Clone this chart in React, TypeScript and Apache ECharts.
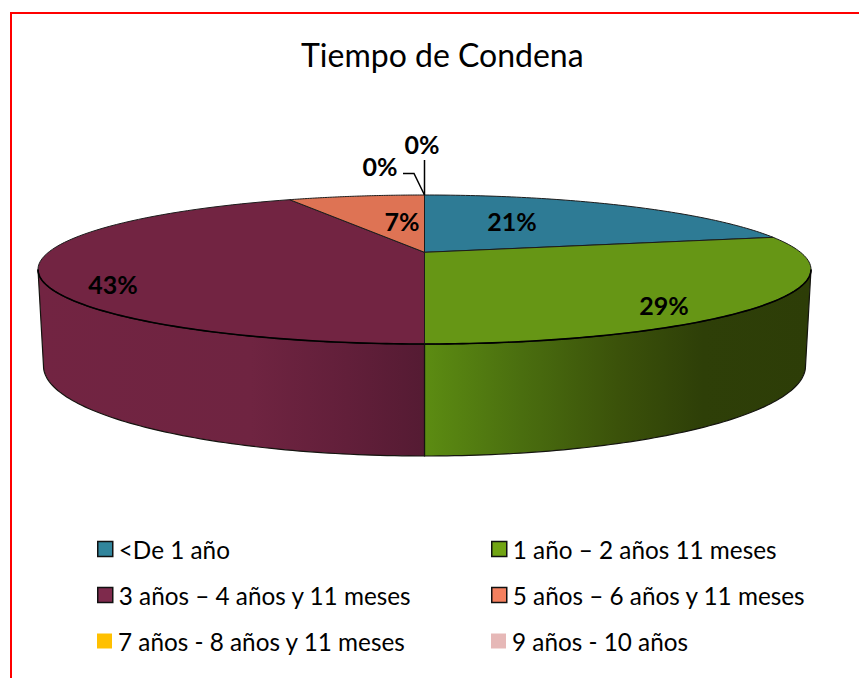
import React, { useEffect, useRef } from "react";
import * as echarts from "echarts";

const titleText = "Tiempo de Condena";
const categories = [
  "<De 1 año",
  "1 año – 2 años 11 meses",
  "3 años – 4 años y 11 meses",
  "5 años – 6 años y 11 meses",
  "7 años - 8 años y 11 meses",
  "9 años - 10 años",
];
const counts = [3, 4, 6, 1, 0, 0];
const topColors = ["#2E7B95", "#669615", "#722442", "#DE7354", "#FFC000", "#E6B8B7"];
const swatchColors = ["#31859C", "#71A413", "#7E2A4C", "#F4805F", "#FFC000", "#E6B8B7"];

const total = counts.reduce((a, b) => a + b, 0);

// 3D projection of the pie (Excel-like perspective)
const top = { cx: 424.5, cy: 269.5, rx: 386.5, ry: 74.5 };
const bottom = { cx: 424.5, cy: 366, rx: 381, ry: 90 };
const apex = { x: 424.5, y: 252.3 };
const squeeze = 72.6;

function rimPoint(deg: number) {
  const a = (deg * Math.PI) / 180;
  const dx = top.rx * Math.sin(a);
  const dy = -squeeze * Math.cos(a);
  const ox = (apex.x - top.cx) / top.rx;
  const oy = (apex.y - top.cy) / top.ry;
  const ux = dx / top.rx;
  const uy = dy / top.ry;
  const A = ux * ux + uy * uy;
  const B = 2 * (ox * ux + oy * uy);
  const C = ox * ox + oy * oy - 1;
  const t = (-B + Math.sqrt(B * B - 4 * A * C)) / (2 * A);
  return [apex.x + t * dx, apex.y + t * dy];
}
function paramOf(p: number[]) {
  let d = (Math.atan2((p[0] - top.cx) / top.rx, -(p[1] - top.cy) / top.ry) * 180) / Math.PI;
  if (d < -0.001) d += 360;
  return d;
}
function ellipsePt(e: typeof top, deg: number) {
  const a = (deg * Math.PI) / 180;
  return [e.cx + e.rx * Math.sin(a), e.cy - e.ry * Math.cos(a)];
}

const wallGradients: Record<number, any[]> = {
  1: [
    [0, "#5C8C12"],
    [0.25, "#4A6E0F"],
    [0.5, "#3B520A"],
    [0.72, "#2E3F08"],
    [1, "#2D3D07"],
  ],
  2: [
    [0, "#722442"],
    [0.55, "#6F2441"],
    [0.8, "#621F3A"],
    [1, "#551B33"],
  ],
};

const labelPositions = [
  [512, 221],
  [664, 305],
  [113, 284],
  [402, 221],
  [380, 166],
  [422, 144],
];
const leaders: Record<number, number[][]> = {
  4: [
    [403, 173.5],
    [414, 173.5],
    [424.5, 195],
  ],
  5: [
    [424.5, 160],
    [424.5, 195],
  ],
};
const legendPos = [
  [97, 537],
  [491, 537],
  [97, 583],
  [491, 583],
  [97, 629],
  [491, 629],
];

function makeSeries(i: number) {
  const before = counts.slice(0, i).reduce((a, b) => a + b, 0);
  return {
    type: "custom",
    name: categories[i],
    coordinateSystem: "none",
    silent: true,
    z: 2 + i,
    itemStyle: { color: swatchColors[i] },
    data: [[counts[i]]],
    renderItem: (_p: any, api: any) => {
      const v = api.value(0) as number;
      const a1 = (before / total) * 360;
      const a2 = ((before + v) / total) * 360;
      const children: any[] = [];
      if (v > 0) {
        const rim: number[][] = [];
        for (let s = 0; s <= 80; s++) rim.push(rimPoint(a1 + ((a2 - a1) * s) / 80));
        const f1 = Math.max(paramOf(rim[0]), 90);
        const f2 = Math.min(a2 >= 360 ? 360 : paramOf(rim[80]), 270);
        if (f2 > f1) {
          const upper: number[][] = [];
          const lower: number[][] = [];
          for (let s = 0; s <= 80; s++) {
            const f = f1 + ((f2 - f1) * s) / 80;
            upper.push(ellipsePt(top, f));
            lower.push(ellipsePt(bottom, f));
          }
          children.push({
            type: "polygon",
            shape: { points: upper.concat(lower.reverse()) },
            style: {
              fill: new echarts.graphic.LinearGradient(0, 0, 1, 0, (wallGradients[i] || []).map((g: any) => ({ offset: g[0], color: g[1] }))),
              stroke: "#14140f",
              lineWidth: 1.2,
            },
          });
        }
        children.push({
          type: "polygon",
          shape: { points: [[apex.x, apex.y]].concat(rim) },
          style: { fill: topColors[i], stroke: "#1c1c1c", lineWidth: 1 },
        });
        if (f2 > f1) {
          const front: number[][] = [];
          for (let s = 0; s <= 80; s++) front.push(ellipsePt(top, f1 + ((f2 - f1) * s) / 80));
          children.push({ type: "polyline", shape: { points: front }, style: { fill: "none", stroke: "#000", lineWidth: 1.6 } });
        }
      }
      if (leaders[i]) {
        children.push({ type: "polyline", shape: { points: leaders[i] }, style: { fill: "none", stroke: "#000", lineWidth: 1.5 } });
      }
      children.push({
        type: "text",
        z2: 50,
        style: {
          text: `${Math.round((v / total) * 100)}%`,
          x: labelPositions[i][0],
          y: labelPositions[i][1],
          fill: "#000",
          font: "bold 25px Lato",
          textAlign: "center",
          textVerticalAlign: "middle",
        },
      });
      return { type: "group", children };
    },
  };
}

export default function App() {
  const ref = useRef<HTMLDivElement>(null);
  useEffect(() => {
    document.body.style.margin = "0";
    const chart = echarts.init(ref.current!, undefined, { renderer: "svg" });
    chart.setOption({
      animation: false,
      backgroundColor: "#fff",
      title: {
        text: titleText,
        left: 301,
        top: 38,
        padding: 0,
        textStyle: { fontFamily: "Lato", fontSize: 32, fontWeight: "normal", color: "#000" },
      },
      legend: categories.map((c, i) => ({
        data: [
          {
            name: c,
            icon: "rect",
            itemStyle: i < 4 ? { color: swatchColors[i], borderColor: "#111", borderWidth: 1.5 } : { color: swatchColors[i], borderWidth: 0 },
          },
        ],
        left: legendPos[i][0],
        top: legendPos[i][1],
        padding: 0,
        itemWidth: 15,
        itemHeight: 15,
        selectedMode: false,
        textStyle: { fontFamily: "Lato", fontSize: 24.3, color: "#000", padding: [0, 0, 6, 1] },
      })),
      graphic: [
        { type: "line", shape: { x1: 11, y1: 13, x2: 859, y2: 13 }, style: { stroke: "#FF0000", lineWidth: 2 } },
        { type: "line", shape: { x1: 11, y1: 12, x2: 11, y2: 678 }, style: { stroke: "#FF0000", lineWidth: 2 } },
      ],
      series: categories.map((_c, i) => makeSeries(i)),
    });
    return () => chart.dispose();
  }, []);
  return <div ref={ref} style={{ width: 859, height: 678 }} />;
}
